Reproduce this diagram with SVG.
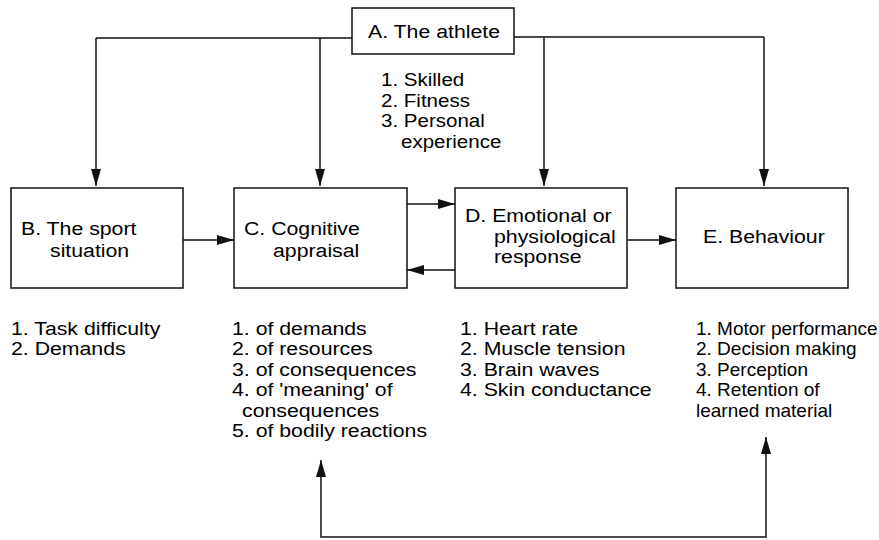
<svg xmlns="http://www.w3.org/2000/svg" width="879" height="540" viewBox="0 0 879 540">
  <style>
    .box { fill: #fff; stroke: #111; stroke-width: 1.5; }
    .wire { fill: none; stroke: #111; stroke-width: 1.5; }
    text { font-family: "Liberation Sans", Arial, Helvetica, sans-serif; font-size: 19px; fill: #000; }
  </style>
  <defs>
    <marker id="head" markerUnits="userSpaceOnUse" markerWidth="18" markerHeight="12" refX="17" refY="5" orient="auto">
      <path d="M0,0 L17,5 L0,10 z" fill="#111"/>
    </marker>
    <marker id="tail" markerUnits="userSpaceOnUse" markerWidth="18" markerHeight="12" refX="0" refY="5" orient="auto">
      <path d="M17,0 L0,5 L17,10 z" fill="#111"/>
    </marker>
  </defs>

  <rect width="879" height="540" fill="#fff"/>

  <!-- connectors -->
  <g id="connectors">
    <path class="wire" d="M96,38 H352"/>
    <path class="wire" d="M514,37 H764"/>
    <path class="wire" d="M96,38 V186" marker-end="url(#head)"/>
    <path class="wire" d="M320,38 V186" marker-end="url(#head)"/>
    <path class="wire" d="M544,37 V186" marker-end="url(#head)"/>
    <path class="wire" d="M764,37 V186" marker-end="url(#head)"/>
    <path class="wire" d="M183,240 H234" marker-end="url(#head)"/>
    <path class="wire" d="M407,204 H455" marker-end="url(#head)"/>
    <path class="wire" d="M455,270 H407" marker-end="url(#head)"/>
    <path class="wire" d="M627,240 H676" marker-end="url(#head)"/>
    <path class="wire" d="M321,460 V537 H766 V437" marker-start="url(#tail)" marker-end="url(#head)"/>
  </g>

  <!-- A: the athlete -->
  <g id="node-a">
    <rect class="box" x="352" y="8" width="162" height="46"/>
    <text transform="translate(368,38) scale(1.12,1)">A. The athlete</text>
    <text transform="translate(381,86) scale(1.08,1)">1. Skilled</text>
    <text transform="translate(381,107) scale(1.08,1)">2. Fitness</text>
    <text transform="translate(381,127) scale(1.08,1)">3. Personal</text>
    <text transform="translate(401,148) scale(1.08,1)">experience</text>
  </g>

  <!-- B: the sport situation -->
  <g id="node-b">
    <rect class="box" x="11" y="188" width="172" height="100"/>
    <text transform="translate(21,235) scale(1.12,1)">B. The sport</text>
    <text transform="translate(50,257) scale(1.12,1)">situation</text>
    <text transform="translate(11,335) scale(1.12,1)">1. Task difficulty</text>
    <text transform="translate(11,355) scale(1.12,1)">2. Demands</text>
  </g>

  <!-- C: cognitive appraisal -->
  <g id="node-c">
    <rect class="box" x="234" y="188" width="173" height="100"/>
    <text transform="translate(244,235) scale(1.12,1)">C. Cognitive</text>
    <text transform="translate(273,257) scale(1.12,1)">appraisal</text>
    <text transform="translate(232,335) scale(1.12,1)">1. of demands</text>
    <text transform="translate(232,355) scale(1.12,1)">2. of resources</text>
    <text transform="translate(232,376) scale(1.12,1)">3. of consequences</text>
    <text transform="translate(232,396) scale(1.12,1)">4. of 'meaning' of</text>
    <text transform="translate(242,417) scale(1.12,1)">consequences</text>
    <text transform="translate(232,437) scale(1.12,1)">5. of bodily reactions</text>
  </g>

  <!-- D: emotional or physiological response -->
  <g id="node-d">
    <rect class="box" x="455" y="188" width="172" height="100"/>
    <text transform="translate(465,222) scale(1.12,1)">D. Emotional or</text>
    <text transform="translate(494,243) scale(1.12,1)">physiological</text>
    <text transform="translate(494,263) scale(1.12,1)">response</text>
    <text transform="translate(460,335) scale(1.12,1)">1. Heart rate</text>
    <text transform="translate(460,355) scale(1.12,1)">2. Muscle tension</text>
    <text transform="translate(460,376) scale(1.12,1)">3. Brain waves</text>
    <text transform="translate(460,396) scale(1.12,1)">4. Skin conductance</text>
  </g>

  <!-- E: behaviour -->
  <g id="node-e">
    <rect class="box" x="676" y="188" width="172" height="100"/>
    <text transform="translate(703,243) scale(1.12,1)">E. Behaviour</text>
    <text transform="translate(696,335)">1. Motor performance</text>
    <text transform="translate(696,355)">2. Decision making</text>
    <text transform="translate(696,376)">3. Perception</text>
    <text transform="translate(696,396)">4. Retention of</text>
    <text transform="translate(696,417)">learned material</text>
  </g>
</svg>
